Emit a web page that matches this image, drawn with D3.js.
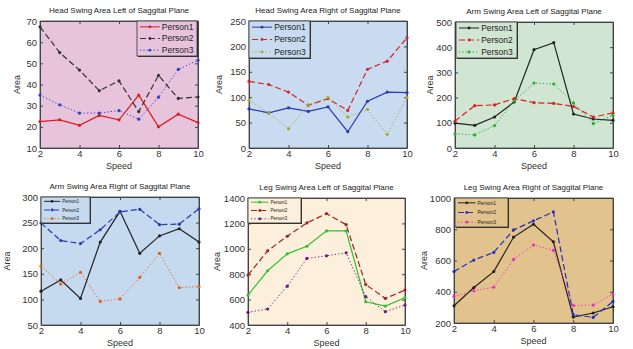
<!DOCTYPE html>
<html>
<head>
<meta charset="utf-8">
<script src="https://cdn.jsdelivr.net/npm/d3@7"></script>
<style>
  body { margin: 0; background: #fff; }
  svg { display: block; font-family: "Liberation Sans", Arial, sans-serif; }
</style>
</head>
<body>
<svg width="633" height="349"></svg>
<script>
const speeds = [2, 3, 4, 5, 6, 7, 8, 9, 10];
const xTicks = [2, 4, 6, 8, 10];

// Head swing, left
const headLeftP1 = [22.5, 23.3, 20.7, 25.4, 23.3, 35, 20, 26, 22];
const headLeftP2 = [67.2, 55.1, 46.8, 37.1, 41.7, 27.2, 44.3, 33.4, 34.1];
const headLeftP3 = [35, 30.4, 26.5, 26.5, 27.7, 23.6, 34, 47.1, 51.5];
// Head swing, right
const headRightP1 = [77, 69, 79, 72, 81, 32, 92, 110, 109];
const headRightP2 = [131, 125, 110, 84, 97, 74, 155, 171, 217];
const headRightP3 = [94, 69, 38, 85, 99, 61, 76, 27, 99];
// Arm swing, left
const armLeftP1 = [99, 90, 123, 183, 390, 418, 135, 115, 110];
const armLeftP2 = [107, 168, 171, 196, 180, 177, 165, 123, 139];
const armLeftP3 = [56, 52, 89, 187, 258, 254, 179, 97, 130];
// Arm swing, right
const armRightP1 = [116, 138, 102, 212, 272, 190, 224, 238, 212];
const armRightP2 = [249, 215, 209, 236, 271, 276, 246, 247, 277];
const armRightP3 = [165, 130, 153, 96, 101, 143, 190, 123, 125];
// Leg swing, left
const legLeftP1 = [636, 827, 960, 1020, 1141, 1141, 583, 549, 615];
const legLeftP2 = [793, 984, 1099, 1204, 1277, 1190, 719, 609, 675];
const legLeftP3 = [500, 526, 706, 924, 945, 968, 623, 505, 557];
// Leg swing, right
const legRightP1 = [310, 427, 529, 750, 832, 720, 238, 264, 304];
const legRightP2 = [529, 603, 652, 796, 854, 911, 253, 236, 338];
const legRightP3 = [370, 406, 429, 607, 699, 665, 312, 315, 385];

const names = ["Person1", "Person2", "Person3"];

const panels = [
  {title: "Head Swing Area Left of Saggital Plane", box: [40, 21, 198, 148], yDomain: [10, 70], yStep: 10,
   bg: "#e7c3dc", series: [headLeftP1, headLeftP2, headLeftP3], colors: ["#d42020", "#333333", "#3040c0"],
   leg: {x: 137, y: 21, w: 60, h: 35, fs: 8.5}, areaDx: 20},
  {title: "Head Swing Area Right of Saggital Plane", box: [249, 21, 407, 148], yDomain: [0, 250], yStep: 50,
   bg: "#c8dbf0", series: [headRightP1, headRightP2, headRightP3], colors: ["#2a3ab0", "#d02828", "#a8a828"],
   leg: {x: 249, y: 21, w: 61, h: 37, fs: 8.5}, areaDx: 27},
  {title: "Arm Swing Area Left of Saggital Plane", box: [455, 22, 613, 148], yDomain: [0, 500], yStep: 100,
   bg: "#d0e5d2", series: [armLeftP1, armLeftP2, armLeftP3], colors: ["#222222", "#d82020", "#20b030"],
   leg: {x: 456, y: 22, w: 61, h: 36, fs: 8.5}, areaDx: 22},
  {title: "Arm Swing Area Right of Saggital Plane", box: [41, 197, 199, 325], yDomain: [50, 300], yStep: 50,
   bg: "#c6daef", series: [armRightP1, armRightP2, armRightP3], colors: ["#222222", "#2a3ab0", "#e06018"],
   leg: {x: 41, y: 197, w: 49, h: 26, fs: 4.5}, areaDx: 31},
  {title: "Leg Swing Area Left of Saggital Plane", box: [248, 198, 405, 325], yDomain: [400, 1400], yStep: 200,
   bg: "#fcefdc", series: [legLeftP1, legLeftP2, legLeftP3], colors: ["#30c030", "#a82020", "#701880"],
   leg: {x: 248, y: 198, w: 53, h: 25, fs: 4.5}, areaDx: 28},
  {title: "Leg Swing Area Right of Saggital Plane", box: [454, 198, 613, 323], yDomain: [200, 1000], yStep: 200,
   bg: "#e2c38e", series: [legRightP1, legRightP2, legRightP3], colors: ["#222222", "#2030c0", "#e830c0"],
   leg: {x: 455, y: 198, w: 53, h: 29, fs: 5}, areaDx: 27}
];

const dashes = [null, "6,3", "1.2,2.2"];
const svg = d3.select("svg");

panels.forEach(p => {
  const [x0, y0, x1, y1] = p.box;
  const x = d3.scaleLinear().domain([2, 10]).range([x0, x1]);
  const y = d3.scaleLinear().domain(p.yDomain).range([y1, y0]);
  const g = svg.append("g");

  g.append("rect").attr("x", x0).attr("y", y0).attr("width", x1 - x0).attr("height", y1 - y0)
    .attr("fill", p.bg);

  // axes, matlab style ticks pointing inward
  const yTicks = d3.range(p.yDomain[0], p.yDomain[1] + 0.001, p.yStep);
  g.append("g").attr("transform", `translate(0,${y1})`)
    .call(d3.axisBottom(x).tickValues(xTicks).tickFormat(d3.format("d")).tickSize(-3).tickPadding(2).tickSizeOuter(0));
  g.append("g").attr("transform", `translate(${x0},0)`)
    .call(d3.axisLeft(y).tickValues(yTicks).tickFormat(d3.format("d")).tickSize(-3).tickPadding(3).tickSizeOuter(0));
  g.append("g").attr("transform", `translate(0,${y0})`)
    .call(d3.axisTop(x).tickValues(xTicks).tickSize(-3).tickFormat("").tickSizeOuter(0));
  g.append("g").attr("transform", `translate(${x1},0)`)
    .call(d3.axisRight(y).tickValues(yTicks).tickSize(-3).tickFormat("").tickSizeOuter(0));
  g.selectAll(".domain").attr("stroke", "#444");
  g.selectAll(".tick line").attr("stroke", "#444");
  g.selectAll(".tick text").attr("fill", "#333").style("font-size", "9.5px");

  g.append("rect").attr("x", x0).attr("y", y0).attr("width", x1 - x0).attr("height", y1 - y0)
    .attr("fill", "none").attr("stroke", "#444").attr("stroke-width", 0.8);

  const line = d3.line().x((d, i) => x(speeds[i])).y(d => y(d));
  p.series.forEach((s, k) => {
    g.append("path").datum(s).attr("d", line)
      .attr("fill", "none").attr("stroke", p.colors[k]).attr("stroke-width", k === 2 ? 1 : 1.2)
      .attr("stroke-dasharray", dashes[k]);
    g.selectAll(null).data(s).enter().append("circle")
      .attr("cx", (d, i) => x(speeds[i])).attr("cy", d => y(d)).attr("r", 1.6)
      .attr("fill", p.colors[k]);
  });

  // legend
  const L = p.leg;
  const lg = g.append("g");
  lg.append("rect").attr("x", L.x + 1).attr("y", L.y + 1).attr("width", L.w).attr("height", L.h)
    .attr("fill", "#333");
  lg.append("rect").attr("x", L.x).attr("y", L.y).attr("width", L.w).attr("height", L.h)
    .attr("fill", p.bg).attr("stroke", "#333").attr("stroke-width", 0.8);
  const rowH = L.h / 3;
  const lineLen = L.w * 0.33;
  names.forEach((n, k) => {
    const cy = L.y + rowH * (k + 0.5);
    lg.append("line").attr("x1", L.x + 3).attr("x2", L.x + 3 + lineLen)
      .attr("y1", cy).attr("y2", cy)
      .attr("stroke", p.colors[k]).attr("stroke-width", 1).attr("stroke-dasharray", dashes[k]);
    lg.append("circle").attr("cx", L.x + 3 + lineLen / 2).attr("cy", cy).attr("r", 1.4)
      .attr("fill", p.colors[k]);
    lg.append("text").attr("x", L.x + 5 + lineLen).attr("y", cy).attr("dy", "0.35em")
      .style("font-size", L.fs + "px").attr("fill", "#222").text(n);
  });

  g.append("text").attr("x", (x0 + x1) / 2).attr("y", y0 - 8)
    .attr("text-anchor", "middle").style("font-size", "8px").attr("fill", "#222").text(p.title);
  g.append("text").attr("x", (x0 + x1) / 2).attr("y", y1 + 21)
    .attr("text-anchor", "middle").style("font-size", "9px").attr("fill", "#333").text("Speed");
  g.append("text").attr("transform", `translate(${x0 - p.areaDx},${(y0 + y1) / 2}) rotate(-90)`)
    .attr("text-anchor", "middle").style("font-size", "9px").attr("fill", "#333").text("Area");
});
</script>
</body>
</html>
